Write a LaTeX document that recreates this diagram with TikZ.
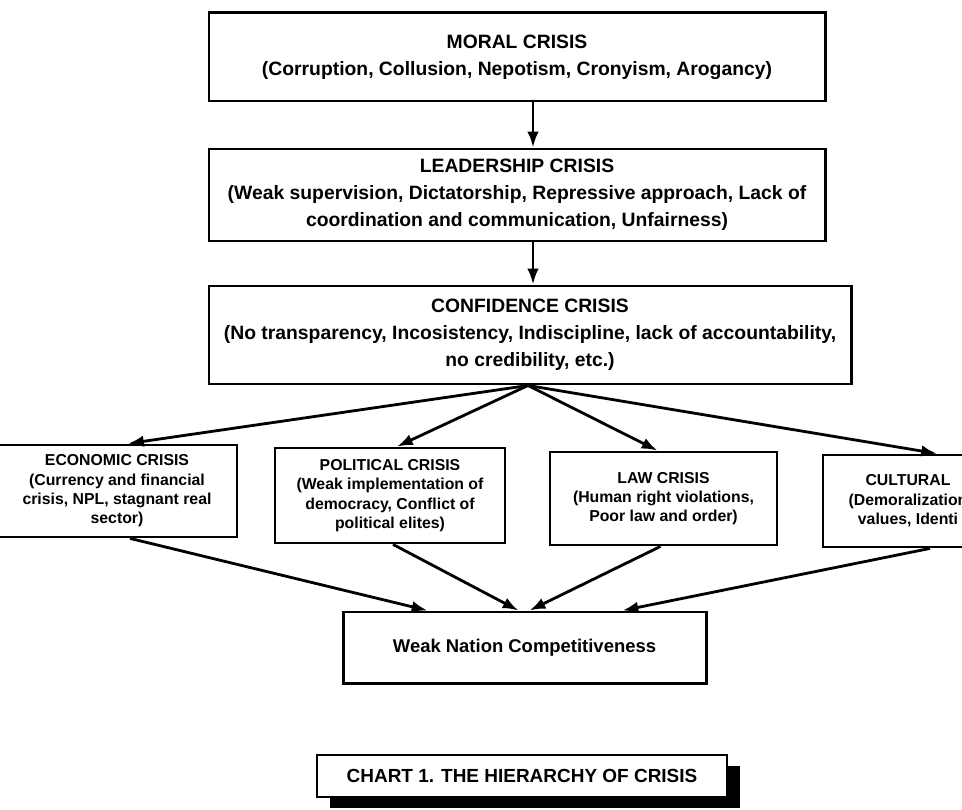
\documentclass[tikz,border=0pt]{standalone}
\usepackage{fontspec}
\setmainfont{Liberation Sans}
\usetikzlibrary{arrows.meta,calc,shadows}

\begin{document}
\begin{tikzpicture}[x=0.02cm, y=-0.02cm]
        % Define styles
        \tikzset{
            crisis/.style={rectangle, draw, line width=1.7pt, inner sep=0pt, font=\fontsize{11}{15.3}\selectfont\bfseries},
            subcrisis/.style={rectangle, draw, line width=1.6pt, inner sep=0pt, font=\fontsize{9}{11}\selectfont\bfseries},
            caption/.style={rectangle, draw, line width=1.2pt, fill=white, inner sep=0pt, font=\fontsize{10.8}{13}\selectfont\bfseries,
                drop shadow={shadow xshift=7.5pt, shadow yshift=-6.5pt, fill=black, opacity=1}},
            arrow/.style={-{Latex[length=9pt,width=6.5pt]}, line width=1.6pt}
        }
        \useasboundingbox (0,0) rectangle (962,810);
        \clip (0,0) rectangle (962,810);

        % Nodes
        \node[crisis, minimum width=616*0.02cm, minimum height=88*0.02cm] (moral_node) at (517,57)
            {\parbox{12cm}{\centering MORAL CRISIS \\ (Corruption, Collusion, Nepotism, Cronyism, Arogancy)}};
        \node[crisis, minimum width=616*0.02cm, minimum height=92*0.02cm] (leadership_node) at (517,195)
            {\parbox{12.2cm}{\centering LEADERSHIP CRISIS \\ (Weak supervision, Dictatorship, Repressive approach, Lack of \\ coordination and communication, Unfairness)}};
        \node[crisis, minimum width=642*0.02cm, minimum height=98*0.02cm] (confidence_node) at (530,335)
            {\parbox{12.8cm}{\centering CONFIDENCE CRISIS \\ (No transparency, Incosistency, Indiscipline, lack of accountability, \\ no credibility, etc.)}};

        \node[subcrisis, minimum width=240*0.02cm, minimum height=92*0.02cm] (economic_node) at (117,491)
            {\parbox{4.6cm}{\centering ECONOMIC CRISIS \\ (Currency and financial \\ crisis, NPL, stagnant real \\ sector)}};
        \node[subcrisis, minimum width=230*0.02cm, minimum height=95*0.02cm] (political_node) at (390,495.5)
            {\parbox{4.4cm}{\centering POLITICAL CRISIS \\ (Weak implementation of \\ democracy, Conflict of \\ political elites)}};
        \node[subcrisis, minimum width=227*0.02cm, minimum height=93*0.02cm] (law_node) at (663.5,498.5)
            {\parbox{4.4cm}{\centering LAW CRISIS \\ (Human right violations, \\ Poor law and order)}};
        \node[subcrisis, minimum width=170*0.02cm, minimum height=92*0.02cm] (cultural_node) at (908,501)
            {\parbox{3.2cm}{\centering CULTURAL \\ (Demoralization \\ values, Identi}};

        \node[crisis, font=\fontsize{10.5}{13}\selectfont\bfseries, minimum width=363*0.02cm, minimum height=71*0.02cm] (weak_node) at (524.5,647.5)
            {Weak Nation Competitiveness};

        % Arrows
        \draw[arrow] (moral_node.south -| 533,0) -- (leadership_node.north -| 533,0);
        \draw[arrow] (leadership_node.south -| 533,0) -- (confidence_node.north -| 533,0);

        \coordinate (fork) at ($(confidence_node.south)+(-2,0)$);
        \draw[arrow] (fork) -- ($(economic_node.north)+(11,0)$);
        \draw[arrow] (fork) -- ($(political_node.north)+(7,0)$);
        \draw[arrow] (fork) -- ($(law_node.north)+(-6,0)$);
        \draw[arrow] (fork) -- ($(cultural_node.north)+(29,0)$);

        \draw[arrow] ($(economic_node.south)+(13,0)$) -- ($(weak_node.north)+(-97,0)$);
        \draw[arrow] ($(political_node.south)+(3,0)$) -- ($(weak_node.north)+(-6,0)$);
        \draw[arrow] ($(law_node.south)+(-3,0)$) -- ($(weak_node.north)+(5,0)$);
        \draw[arrow] ($(cultural_node.south)+(22,0)$) -- ($(weak_node.north)+(98,0)$);

        % Caption
        \node[caption, minimum width=410*0.02cm, minimum height=42*0.02cm] (chart_node) at (522,776)
            {CHART 1. THE HIERARCHY OF CRISIS};
    \end{tikzpicture}
\end{document}
